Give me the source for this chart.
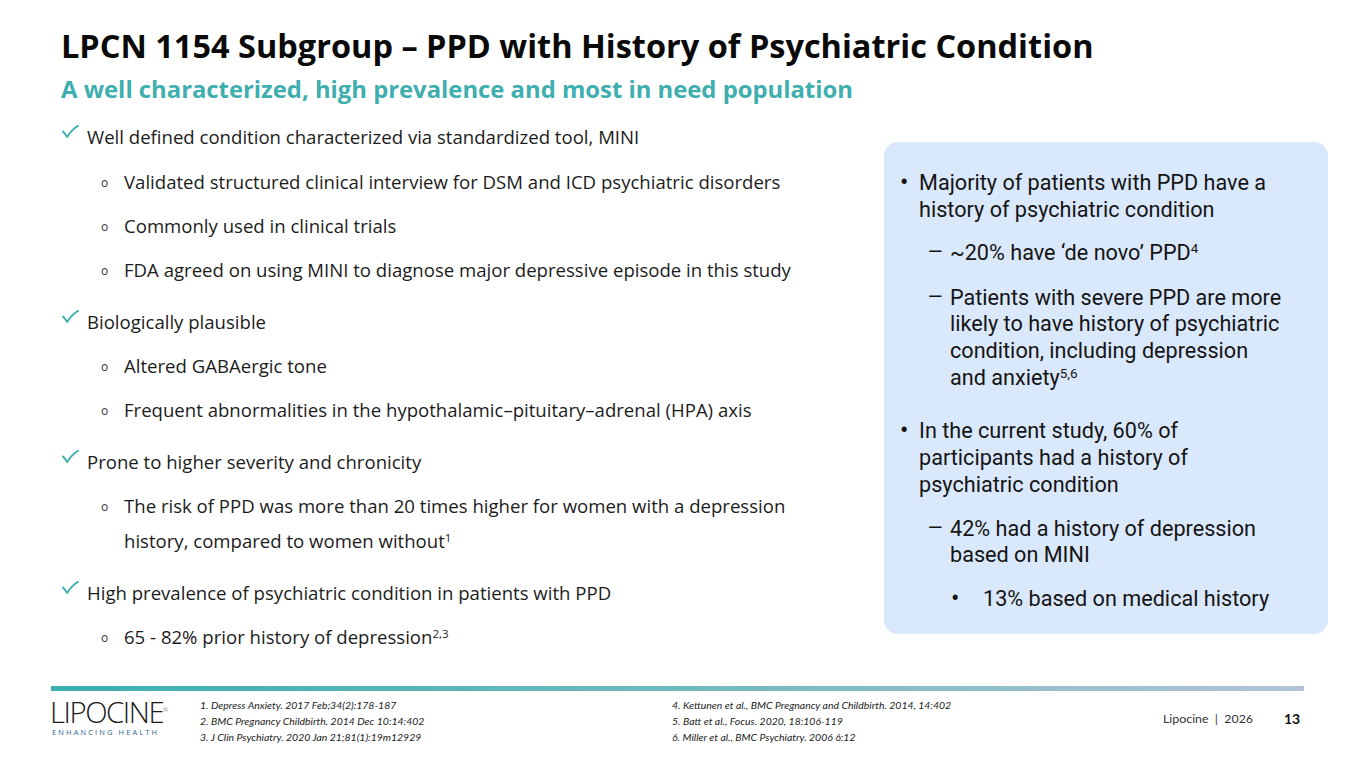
<!DOCTYPE html>
<html>
<head>
<meta charset="utf-8">
<script src="https://cdn.jsdelivr.net/npm/chart.js@4.4.1/dist/chart.umd.min.js"></script>
<style>
  html, body { margin:0; padding:0; background:#fff; }
  #slide { position:relative; width:1350px; height:759px; overflow:hidden; background:#fff; }
  .t { position:absolute; white-space:nowrap; display:inline-block; }
  sup { font-size:0.62em; vertical-align:0; position:relative; top:-0.5em; line-height:0; }
  #title { font-family:"Open Sans", sans-serif; font-weight:700; color:#0a0a0a; }
  #subtitle { font-family:"Open Sans", sans-serif; font-weight:700; color:#3eaeae; }
  .left { font-family:"Open Sans", sans-serif; color:#1c1c1c; }
  .check { position:absolute; width:17px; height:13px; }
  .obul { position:absolute; font-family:"Open Sans", sans-serif; color:#333; font-size:12px; line-height:16px; }
  #box { position:absolute; left:884px; top:142px; width:444px; height:492px; background:#dae8fb; border-radius:14px; }
  .right { font-family:"Roboto", sans-serif; color:#141414; }
  .rbul { font-family:"Roboto", sans-serif; color:#141414; }
  #bar { position:absolute; left:51px; top:686px; width:1253px; height:5px; background:linear-gradient(to right,#3aafae 0%,#6fb9bf 50%,#b3c3d6 100%); }
  .ref { font-family:"Lato", sans-serif; font-style:italic; color:#222; }
  #logo { font-family:"Open Sans", sans-serif; font-weight:300; color:#1a1a1a; letter-spacing:-1.5px; transform-origin:left center; }
  #tag { font-family:"Open Sans", sans-serif; color:#2e5f8f; font-size:7.5px; letter-spacing:2.1px; }
  #foot { font-family:"Lato", sans-serif; color:#333; }
  #pg { font-family:"Lato", sans-serif; font-weight:700; color:#111; }
</style>
</head>
<body>
<div id="slide">
  <div id="box"></div>
  <div id="bar"></div>
</div>
<script>
// ---- content ----
const titleText = "LPCN 1154 Subgroup \u2013 PPD with History of Psychiatric Condition";
const subtitleText = "A well characterized, high prevalence and most in need population";

const leftTexts = [
  "Well defined condition characterized via standardized tool, MINI",
  "Validated structured clinical interview for DSM and ICD psychiatric disorders",
  "Commonly used in clinical trials",
  "FDA agreed on using MINI to diagnose major depressive episode in this study",
  "Biologically plausible",
  "Altered GABAergic tone",
  "Frequent abnormalities in the hypothalamic\u2013pituitary\u2013adrenal (HPA) axis",
  "Prone to higher severity and chronicity",
  "The risk of PPD was more than 20 times higher for women with a depression",
  "history, compared to women without<sup>1</sup>",
  "High prevalence of psychiatric condition in patients with PPD",
  "65 - 82% prior history of depression<sup>2,3</sup>"
];
const leftLevels = [1,2,2,2,1,2,2,1,2,0,1,2];

const rightTexts = [
  "Majority of patients with PPD have a",
  "history of psychiatric condition",
  "~20% have \u2018de novo\u2019 PPD<sup>4</sup>",
  "Patients with severe PPD are more",
  "likely to have history of psychiatric",
  "condition, including depression",
  "and anxiety<sup>5,6</sup>",
  "In the current study, 60% of",
  "participants had a history of",
  "psychiatric condition",
  "42% had a history of depression",
  "based on MINI",
  "13% based on medical history"
];
const rightMarks = ["\u2022","","\u2013","\u2013","","","","\u2022","","","\u2013","","\u2022"];
const rightLevels = [1,1,2,2,2,2,2,1,1,1,2,2,3];

const refsLeft = [
  "1. Depress Anxiety. 2017 Feb;34(2):178-187",
  "2. BMC Pregnancy Childbirth. 2014 Dec 10:14:402",
  "3. J Clin Psychiatry. 2020 Jan 21;81(1):19m12929"
];
const refsRight = [
  "4. Kettunen et al., BMC Pregnancy and Childbirth. 2014, 14:402",
  "5. Batt et al., Focus. 2020, 18:106-119",
  "6. Miller et al., BMC Psychiatry. 2006 6:12"
];
const footerText = "Lipocine &nbsp;|&nbsp; 2026";
const pageNumber = "13";

// ---- layout ----
const slide = document.getElementById('slide');
function add(cls, html, x, yc, lh, id) {
  const d = document.createElement('div');
  d.className = 't ' + cls;
  if (id) d.id = id;
  d.innerHTML = html;
  d.style.left = x + 'px';
  d.style.top = (yc - lh/2) + 'px';
  d.style.lineHeight = lh + 'px';
  d.style.height = lh + 'px';
  slide.appendChild(d);
  return d;
}
function fit(els, base, targets) {
  els.forEach(e => e.style.fontSize = base + 'px');
  let s = 0, n = 0;
  els.forEach((e, i) => {
    if (targets[i]) { s += targets[i] / e.getBoundingClientRect().width; n++; }
  });
  const fs = base * (n ? s / n : 1);
  els.forEach(e => e.style.fontSize = fs + 'px');
  return fs;
}

const tEl = add('', titleText, 61, 46, 40, 'title');
fit([tEl], 30, [1033]);
const sEl = add('', subtitleText, 61, 89, 32, 'subtitle');
fit([sEl], 22, [792]);

const leftY = [137,182,226,270,322,366,410,462,506,541,593,637];
const leftX = {1:87, 2:124, 0:124};
const leftTargets = [543,659,0,677,0,0,626,0,662,0,527,0];
const svgNS = 'http://www.w3.org/2000/svg';
const leftEls = leftTexts.map((t, i) => {
  const lv = leftLevels[i];
  if (lv === 1) {
    const c = document.createElementNS(svgNS, 'svg');
    c.setAttribute('class', 'check');
    c.setAttribute('viewBox', '0 0 17 13');
    c.style.left = '62px'; c.style.top = (leftY[i] - 12) + 'px';
    c.innerHTML = '<path d="M1 6.5 Q3.5 9 5.2 12 Q9 5.5 16 0.8" fill="none" stroke="#3eaeae" stroke-width="1.9" stroke-linecap="round" stroke-linejoin="round"/>';
    slide.appendChild(c);
  } else if (lv === 2) {
    const b = document.createElement('div');
    b.className = 'obul'; b.textContent = 'o';
    b.style.left = '101px'; b.style.top = (leftY[i] - 7) + 'px';
    slide.appendChild(b);
  }
  return add('left', t, leftX[lv], leftY[i], 28);
});
fit(leftEls, 17, leftTargets);

const rightY = [182,209,252,297,323,350,377,430,457,484,528,554,598];
const rightX = {1:919, 2:950, 3:983};
const markX = {1:900, 2:929, 3:951};
const rightTargets = [344,0,0,329,330,0,0,0,0,0,308,0,289];
const rightEls = rightTexts.map((t, i) => {
  const lv = rightLevels[i];
  if (rightMarks[i]) {
    const m = add('rbul', rightMarks[i], markX[lv], rightY[i], 27);
    m.style.fontSize = rightMarks[i] === '\u2022' ? '25px' : '20px';
    if (rightMarks[i] === '\u2013') m.style.transform = 'scaleX(1.25)';
  }
  return add('right', t, rightX[lv], rightY[i], 27);
});
fit(rightEls, 19, rightTargets);

const refY = [705,721,737];
const rl = refsLeft.map((t, i) => add('ref', t, 200, refY[i], 14));
const rr = refsRight.map((t, i) => add('ref', t, 672, refY[i], 14));
fit(rl.concat(rr), 10, [184,226,221,286,172,190]);

const logo = add('', 'LIPOCINE<span style="font-size:6px;vertical-align:top;letter-spacing:0;position:relative;top:-2px">\u00ae</span>', 50, 712, 22, 'logo');
logo.style.fontSize = '30px';
const lw = logo.getBoundingClientRect().width;
logo.style.transform = 'scaleX(' + (118 / lw) + ')';
add('', 'ENHANCING HEALTH', 52, 732, 10, 'tag');

const f = add('', footerText, 1163, 719, 18, 'foot');
fit([f], 14, [90]);
const p = add('', pageNumber, 1284, 719, 18, 'pg');
p.style.fontSize = '14px';
</script>
</body>
</html>
